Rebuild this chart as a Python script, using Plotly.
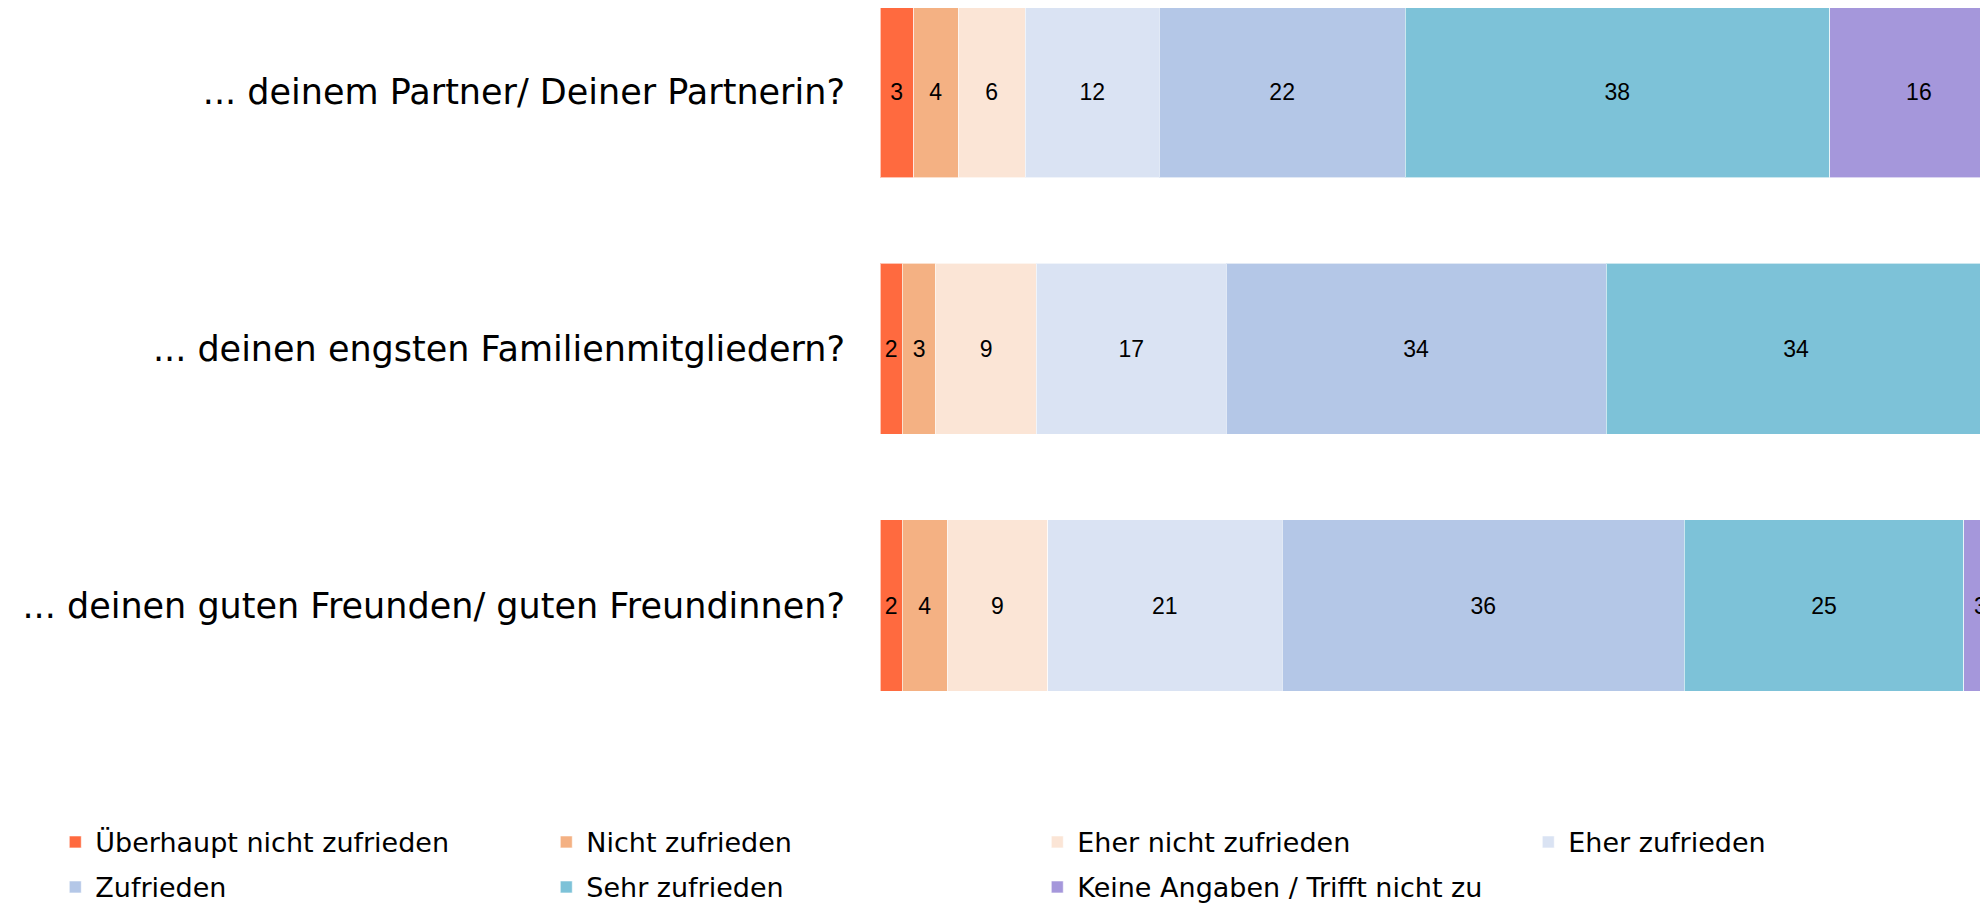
import plotly.graph_objects as go

categories = [
    "... deinem Partner/ Deiner Partnerin?",
    "... deinen engsten Familienmitgliedern?",
    "... deinen guten Freunden/ guten Freundinnen?",
]
series_names = [
    "Überhaupt nicht zufrieden",
    "Nicht zufrieden",
    "Eher nicht zufrieden",
    "Eher zufrieden",
    "Zufrieden",
    "Sehr zufrieden",
    "Keine Angaben / Trifft nicht zu",
]
ueberhaupt_nicht = [3, 2, 2]
nicht = [4, 3, 4]
eher_nicht = [6, 9, 9]
eher = [12, 17, 21]
zufrieden = [22, 34, 36]
sehr = [38, 34, 25]
keine = [16, 1, 3]
series_values = [ueberhaupt_nicht, nicht, eher_nicht, eher, zufrieden, sehr, keine]
colors = ["#FF6A3F", "#F4B183", "#FBE5D6", "#DAE3F3", "#B4C7E7", "#7DC2D8", "#A597DB"]
legend_slots = ["legend", "legend", "legend", "legend3", "legend2", "legend2", "legend2"]

fig = go.Figure()
for name, vals, col, lg in zip(series_names, series_values, colors, legend_slots):
    fig.add_trace(go.Bar(
        y=categories, x=vals, name=name, orientation="h", legend=lg,
        marker=dict(color=col, line=dict(color="rgba(255,255,255,0.6)", width=1)),
        text=[str(v) for v in vals], textposition="inside",
        insidetextanchor="middle", textangle=0,
        textfont=dict(family="Liberation Sans, Arial, sans-serif", size=23, color="#000000"),
        constraintext="none",
        hoverinfo="skip",
    ))

legend_base = dict(
    orientation="h", xanchor="left", yanchor="middle",
    traceorder="normal",
    font=dict(family="DejaVu Sans, sans-serif", size=27, color="#000000"),
    itemwidth=30, bgcolor="rgba(0,0,0,0)",
)
legend_cols = dict(entrywidth=446, entrywidthmode="pixels", **legend_base)

x0 = -0.739
col_step = 491 / 1116

fig.update_layout(
    width=1988, height=904,
    barmode="stack", bargap=0.333,
    plot_bgcolor="white", paper_bgcolor="white",
    margin=dict(l=872, r=0, t=0, b=177.5, autoexpand=False),
    xaxis=dict(range=[0, 99.9], visible=False, showgrid=False, zeroline=False),
    yaxis=dict(
        type="category", range=[2.5, -0.327], showgrid=False, zeroline=False,
        showline=False, ticks="", ticklabelstandoff=34,
        tickfont=dict(family="DejaVu Sans, sans-serif", size=35, color="#000000"),
    ),
    legend=dict(x=x0, y=-0.1493, **legend_cols),
    legend3=dict(x=x0 + 3 * col_step, y=-0.1493, **legend_base),
    legend2=dict(x=x0, y=-0.2113, **legend_cols),
    font=dict(family="DejaVu Sans, sans-serif"),
)

fig.write_html("out.html")
